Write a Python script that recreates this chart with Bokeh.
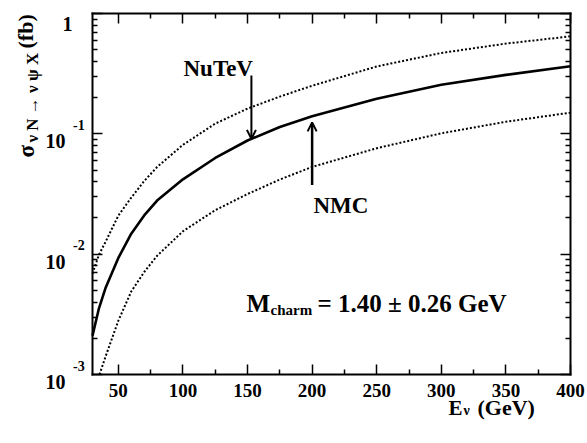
import math
import numpy as np
from bokeh.plotting import figure
from bokeh.models import Range1d, LinearAxis, LogAxis, FixedTicker, Label, Arrow, OpenHead
from bokeh.embed import file_html
from bokeh.resources import INLINE

# ---------------- data ----------------
energy = [30, 35, 40, 50, 60, 70, 80, 100, 125, 150, 175, 200, 250, 300, 350, 400]
sigma_central = [0.0021, 0.00355, 0.0052, 0.0093, 0.0148, 0.0210, 0.0279, 0.0419, 0.0630,
                 0.0880, 0.1140, 0.140, 0.196, 0.256, 0.309, 0.365]
sigma_upper = [0.0069, 0.0099, 0.0126, 0.0209, 0.0295, 0.0405, 0.053, 0.081, 0.1216,
               0.162, 0.204, 0.251, 0.363, 0.470, 0.562, 0.646]
energy_lower = [35.4, 40, 50, 60, 70, 80, 100, 125, 150, 175, 200, 250, 300, 350, 400]
sigma_lower = [0.0010, 0.0014, 0.0028, 0.0049, 0.0071, 0.0097, 0.0155, 0.0232,
               0.0316, 0.0417, 0.0531, 0.0759, 0.101, 0.126, 0.150]

x_lo, x_hi = 30, 400
y_lo, y_hi = 1e-3, 1.0
x_ticks = [50, 100, 150, 200, 250, 300, 350, 400]
x_minor_ticks = [75, 125, 175, 225, 275, 325, 375]
y_ticks = [1e-3, 1e-2, 1e-1, 1.0]
y_tick_exponents = ["-3", "-2", "-1", ""]
y_minor_ticks = [m * 10.0 ** k for k in (-3, -2, -1) for m in range(2, 10)]

nutev_x = 153
nmc_x = 200

FONT = "Liberation Serif"
W, H = 587, 443
L, R, T, B = 92, 570, 13, 374   # box edges in canvas pixels

# ranges extended so that the data box [30,400]x[1e-3,1] sits at the box pixels
# while the whole canvas stays drawable for the texts
sx = (R - L) / (x_hi - x_lo)
x_start = x_lo - L / sx
x_end = x_hi + (W - R) / sx
dec = (B - T) / (math.log10(y_hi) - math.log10(y_lo))
y_start = 10 ** (math.log10(y_lo) - (H - B) / dec)
y_end = 10 ** (math.log10(y_hi) + T / dec)

p = figure(width=W, height=H, x_range=Range1d(x_start, x_end),
           y_range=Range1d(y_start, y_end), y_axis_type="log",
           x_axis_location=None, y_axis_location=None,
           output_backend="svg", toolbar_location=None,
           min_border_left=0, min_border_right=0, min_border_top=0, min_border_bottom=0)
p.grid.visible = False
p.outline_line_color = None
p.background_fill_color = "white"
p.border_fill_color = "white"

# curves
p.line(energy, sigma_central, line_color="black", line_width=2.6)
p.line(energy, sigma_upper, line_color="black", line_width=2, line_dash="2 2")
p.line(energy_lower, sigma_lower, line_color="black", line_width=2, line_dash="2 2")


def style_axis(ax):
    ax.major_tick_in = 10
    ax.major_tick_out = 0
    ax.minor_tick_in = 5
    ax.minor_tick_out = 0
    ax.axis_line_width = 2
    ax.axis_line_cap = "square"
    ax.major_tick_line_width = 1.5
    ax.minor_tick_line_width = 1.5
    ax.major_label_text_color = None
    ax.major_label_standoff = 0


for loc, side in ((y_lo, "below"), (y_hi, "above")):
    ax = LinearAxis(ticker=FixedTicker(ticks=x_ticks, minor_ticks=x_minor_ticks),
                    fixed_location=loc, bounds=(x_lo, x_hi))
    style_axis(ax)
    p.add_layout(ax, side)

for loc, side in ((x_lo, "left"), (x_hi, "right")):
    ax = LogAxis(ticker=FixedTicker(ticks=y_ticks, minor_ticks=y_minor_ticks),
                 fixed_location=loc, bounds=(y_lo, y_hi))
    style_axis(ax)
    p.add_layout(ax, side)


def lab(text, px, py, size, align="left", angle=0.0, xu="canvas", yu="canvas", yoff=0):
    p.add_layout(Label(x=px, y=py, x_units=xu, y_units=yu, y_offset=yoff, text=text,
                       text_font=FONT, text_font_style="bold", text_font_size=size,
                       text_align=align, text_baseline="alphabetic", angle=angle,
                       text_color="black"))


# x tick labels
for t in x_ticks:
    lab(str(t), t, 390, "19px", align="center", xu="data")

# y tick labels
for v, e in zip(y_ticks, y_tick_exponents):
    if e == "":
        lab("1", 72, v, "20px", align="right", yu="data", yoff=-10)
    else:
        lab("10", 65, v, "20px", align="right", yu="data", yoff=-7.5)
        lab(e, 72.5, v, "14px", align="left", yu="data", yoff=9)

# x axis title
lab("E", 448, 407, "21px")
lab("ν", 463, 410, "14px")
lab("(GeV)", 477, 407, "22px")

# y axis title (rotated)
ang = math.pi / 2
lab("σ", 26, 157, "23px", angle=ang)
lab("ν N → ν ψ X", 32, 142, "17px", angle=ang)
lab("(fb)", 25, 48, "22px", angle=ang)

# annotations
lab("NuTeV", 183, 68, "23px")
lab("NMC", 313, 205, "23px")
lab("M", 246, 303, "25px")
lab("charm", 270, 309, "15px")
lab("= 1.40 ± 0.26 GeV", 317, 303, "25px")


def log_interp(x0, xs, ys):
    return 10 ** np.interp(x0, xs, np.log10(ys))


nutev_tip = log_interp(nutev_x, energy, sigma_central)
nmc_tip = log_interp(nmc_x, energy, sigma_central) * 0.89
p.add_layout(Arrow(end=OpenHead(size=9, line_width=2), x_start=nutev_x, y_start=0.305,
                   x_end=nutev_x, y_end=nutev_tip, line_width=2))
p.add_layout(Arrow(end=OpenHead(size=9, line_width=2), x_start=nmc_x, y_start=0.0375,
                   x_end=nmc_x, y_end=nmc_tip, line_width=2.5))

open("out.html", "w").write(file_html(p, INLINE))
